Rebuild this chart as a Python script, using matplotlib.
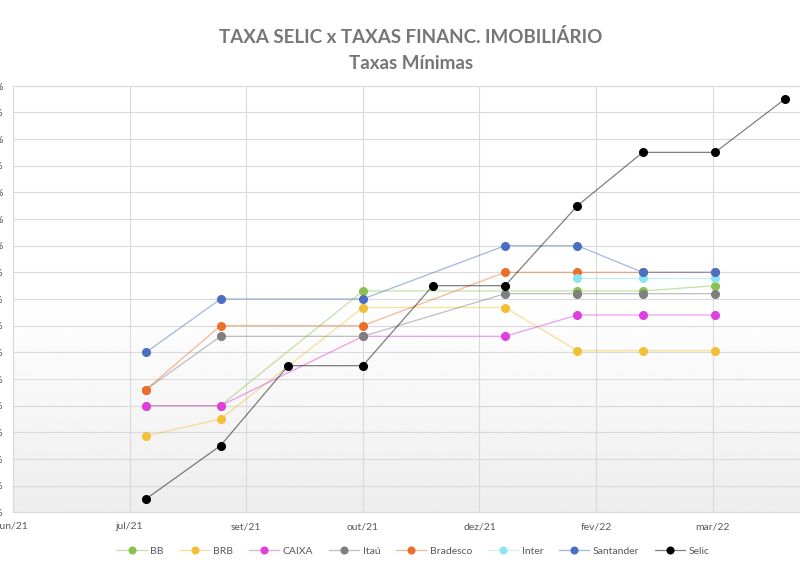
import datetime as dt

import numpy as np
import matplotlib
matplotlib.use('Agg')
import matplotlib.pyplot as plt
import matplotlib.dates as mdates
from matplotlib.colors import to_rgba
from matplotlib.lines import Line2D
from matplotlib.ticker import FixedLocator, FuncFormatter

# datas das cotações
datas = ['2021-07-28', '2021-08-29', '2021-09-27', '2021-10-29', '2021-11-28',
         '2021-12-29', '2022-01-29', '2022-02-26', '2022-03-29', '2022-04-28']

# taxas mínimas (% a.a.) - None = sem cotação na data
bb = [7.00, 7.00, None, 9.15, None, None, 9.15, 9.15, 9.25, None]
brb = [6.43, 6.75, None, 8.84, None, 8.84, 8.03, 8.03, 8.03, None]
caixa = [7.00, 7.00, None, 8.30, None, 8.30, 8.70, 8.70, 8.70, None]
itau = [7.30, 8.30, None, 8.30, None, 9.10, 9.10, 9.10, 9.10, None]
bradesco = [7.30, 8.50, None, 8.50, None, 9.50, 9.50, 9.50, 9.50, None]
inter = [None, None, None, None, None, None, 9.40, 9.40, 9.40, None]
santander = [8.00, 9.00, None, 9.00, None, 10.00, 10.00, 9.50, 9.50, None]
selic = [5.25, 6.25, 7.75, 7.75, 9.25, 9.25, 10.75, 11.75, 11.75, 12.75]

nomes = ['BB', 'BRB', 'CAIXA', 'Itaú', 'Bradesco', 'Inter', 'Santander', 'Selic']
series = [bb, brb, caixa, itau, bradesco, inter, santander, selic]
cores = ['#8cc152', '#f2c037', '#e03fe0', '#7f7f7f', '#eb6f2b', '#8ee3f2', '#4a6fc0', '#000000']

meses = ['jan', 'fev', 'mar', 'abr', 'mai', 'jun', 'jul', 'ago', 'set', 'out', 'nov', 'dez']

plt.rcParams['font.family'] = ['Lato', 'DejaVu Sans']

fig = plt.figure(figsize=(8, 5.73), dpi=100)
ax = fig.add_axes([13 / 800, 1 - 512.3 / 573, 1.0, (512.3 - 85.7) / 573])

x = [mdates.date2num(dt.datetime.strptime(d, '%Y-%m-%d')) for d in datas]

for nome, vals, cor in zip(nomes, series, cores):
    xs = [xi for xi, v in zip(x, vals) if v is not None]
    ys = [v for v in vals if v is not None]
    ax.plot(xs, ys, color=to_rgba(cor, 0.5), lw=0.9, marker='o', ms=5.5,
            markerfacecolor=cor, markeredgecolor=cor, zorder=3)

# eixo x: início em jun/21, unidade principal 50 dias
x0 = mdates.date2num(dt.datetime(2021, 6, 1))
ax.xaxis.set_major_locator(FixedLocator(np.arange(x0, x0 + 343, 50)))
ax.xaxis.set_major_formatter(FuncFormatter(
    lambda v, p: '{}/{}'.format(meses[mdates.num2date(v).month - 1], mdates.num2date(v).strftime('%y'))))

ax.set_yticks(np.arange(5, 13.01, 0.5))
ax.yaxis.set_major_formatter(FuncFormatter(lambda v, p: '{:.2f}%'.format(v).replace('.', ',')))

ax.grid(True, color='#dadada', lw=0.8, zorder=0)
ax.set_axisbelow(True)
for s in ax.spines.values():
    s.set_color('#dadada')
    s.set_linewidth(0.8)
ax.tick_params(length=0, labelsize=7.5, labelcolor='#595959', pad=7)

# fundo degradê na parte de baixo
grad = np.linspace(0.93, 1.0, 100).reshape(-1, 1)
ax.imshow(grad, cmap='gray', vmin=0, vmax=1, aspect='auto', origin='lower',
          extent=[0, 1, 0, 0.5], transform=ax.transAxes, zorder=0)
ax.set_xlim(x0, x0 + 343)
ax.set_ylim(5, 13)

fig.text(411 / 800, 1 - 37 / 573, 'TAXA SELIC x TAXAS FINANC. IMOBILIÁRIO',
         ha='center', va='center', fontsize=13.5, fontweight='bold', color='#767676')
fig.text(411 / 800, 1 - 63 / 573, 'Taxas Mínimas',
         ha='center', va='center', fontsize=13.5, fontweight='bold', color='#767676')

handles = [Line2D([], [], color=to_rgba(c, 0.5), lw=0.9, marker='o', ms=4.8,
                  markerfacecolor=c, markeredgecolor=c) for c in cores]
fig.legend(handles, nomes, loc='center', bbox_to_anchor=(413 / 800, 1 - 551 / 573),
           ncol=8, frameon=False, fontsize=7.5, labelcolor='#595959',
           handlelength=2.9, columnspacing=1.5, handletextpad=0.35)

fig.savefig('out.png', dpi=100)
